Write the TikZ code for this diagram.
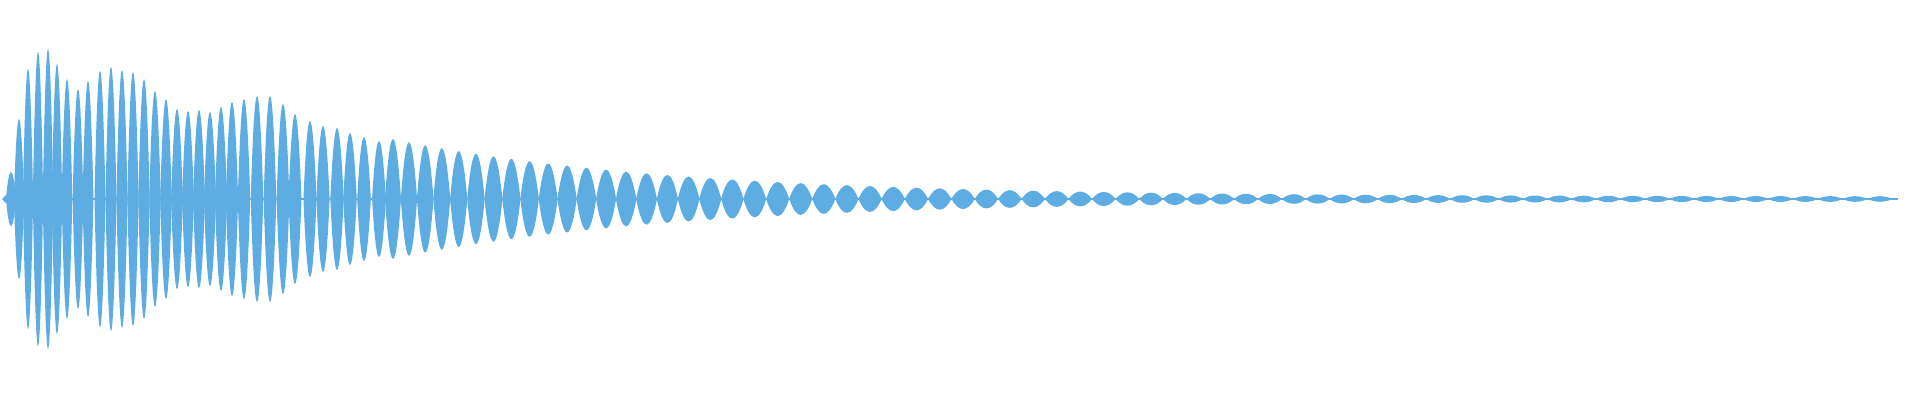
\documentclass[tikz,border=0pt]{standalone}
\definecolor{wavec}{HTML}{5DACE2}
\begin{document}
\begin{tikzpicture}[x=1pt,y=1pt,wave/.style={fill=wavec}]
\useasboundingbox (0,0) rectangle (1920,400);
\begin{scope}[yshift=201pt]
\fill[wavec] (3,-1.2) rectangle (1898,1.2);
\fill[wavec] (2,0) -- (6,4) -- (9,0) -- (6,-4) -- cycle;
\foreach \cx/\A in {11/27,19/80,28/130,38/147,48/150,57/135,67/120,78/110,88/118,100/128,111/132,122/129,133/127,144/120,155/108,166/100,177/90,188/88,199/89,210/87,221/92,232/97,244/100,257/103,270/103,283/95,295/85,310/78,323/73,337/71,350/66,364/62,379/58}{
  \pgfmathsetmacro\w{5+\cx*0.005}
  \pgfmathsetmacro\h{4*\A/3}
  \fill[wave] ({\cx-\w},0) .. controls ({\cx-0.35*\w},\h) and ({\cx+0.35*\w},\h) .. ({\cx+\w},0)
     .. controls ({\cx+0.35*\w},-\h) and ({\cx-0.35*\w},-\h) .. cycle;
}
\gdef\cx{393}
\foreach \i in {1,...,75}{
  \pgfmathsetmacro\p{\cx<760 ? 16+7*(\cx-395)/365 : 23+2*(\cx-760)/1140}
  \pgfmathsetmacro\A{2.5+57*exp(-(\cx-395)/280)}
  \pgfmathsetmacro\w{\p/2}
  \pgfmathsetmacro\h{4*\A/3}
  \ifdim\cx pt<1890pt
  \fill[wave] ({\cx-\w},0) .. controls ({\cx-0.35*\w},\h) and ({\cx+0.35*\w},\h) .. ({\cx+\w},0)
     .. controls ({\cx+0.35*\w},-\h) and ({\cx-0.35*\w},-\h) .. cycle;
  \fi
  \pgfmathsetmacro\nx{\cx+\p}
  \xdef\cx{\nx}
}
\end{scope}
\end{tikzpicture}
\end{document}
